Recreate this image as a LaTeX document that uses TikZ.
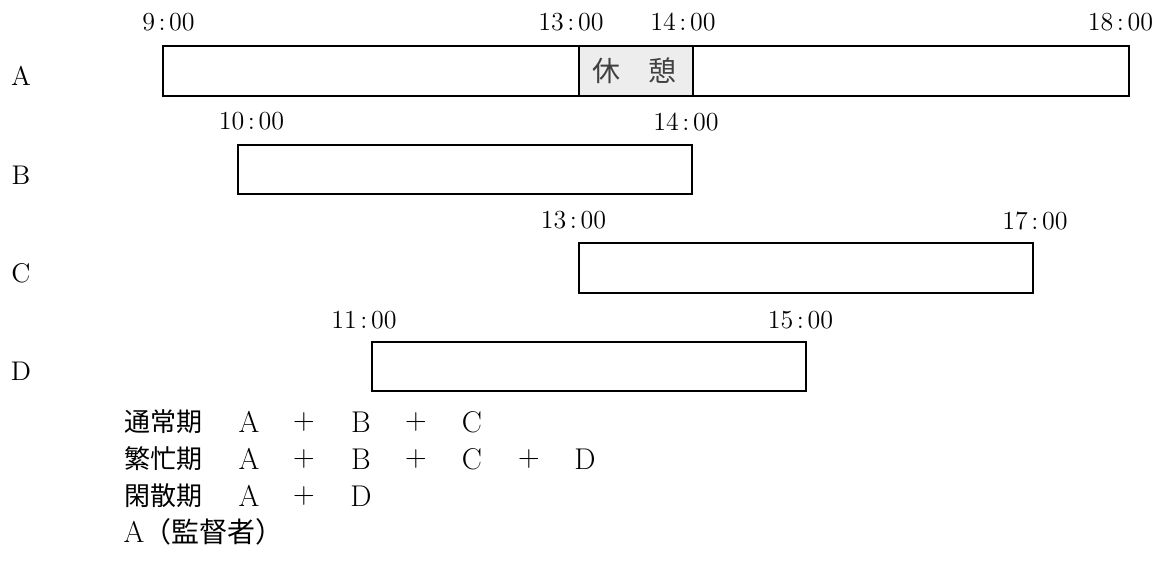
\documentclass[tikz,border=0pt]{standalone}
\usepackage{fontspec}
\newfontfamily\jp{Noto Sans CJK JP}
\newcommand{\tmlab}[2]{#1\kern1.8pt:\kern1.8pt#2}
\begin{document}
\begin{tikzpicture}[x=0.5pt,y=-0.5pt,
  bar/.style={draw=black,line width=1.2pt},
  breakfill/.style={fill=black!7},
  tlab/.style={inner sep=0pt,font=\fontsize{13}{15}\selectfont},
  rlab/.style={inner sep=0pt,font=\fontsize{13.5}{15}\selectfont},
  jlab/.style={inner sep=0pt,anchor=west,font=\jp\fontsize{13}{15}\selectfont},
  ltok/.style={inner sep=0pt,font=\fontsize{15}{17}\selectfont},
  breaklab/.style={inner sep=0pt,text=black!75,font=\jp\fontsize{14}{16}\selectfont}]
\useasboundingbox (0,0) rectangle (1158,574);

% row labels
\node[rlab] (rA) at (21,76) {A};
\node[rlab] (rB) at (21,175) {B};
\node[rlab] (rC) at (21,273) {C};
\node[rlab] (rD) at (21,371) {D};

% row A
\fill[breakfill] (579,46) rectangle (693,96);
\draw[bar] (163,46) rectangle (1129,96);
\draw[bar] (579,46) -- (579,96);
\draw[bar] (693,46) -- (693,96);
\node[breaklab] (brk) at (634,71) {休　憩};
\node[tlab] (a1) at (168.5,22) {\tmlab{9}{00}};
\node[tlab] (a2) at (571,22) {\tmlab{13}{00}};
\node[tlab] (a3) at (683,22) {\tmlab{14}{00}};
\node[tlab] (a4) at (1120.5,22) {\tmlab{18}{00}};

% row B
\draw[bar] (238,145) rectangle (692,194);
\node[tlab] (b1) at (251.5,121.5) {\tmlab{10}{00}};
\node[tlab] (b2) at (686,121.5) {\tmlab{14}{00}};

% row C
\draw[bar] (579,243) rectangle (1033,293);
\node[tlab] (c1) at (573.5,220.5) {\tmlab{13}{00}};
\node[tlab] (c2) at (1035,220.5) {\tmlab{17}{00}};

% row D
\draw[bar] (372,342) rectangle (806,391);
\node[tlab] (d1) at (364,320) {\tmlab{11}{00}};
\node[tlab] (d2) at (800.5,320) {\tmlab{15}{00}};

% legend lines
\node[jlab] (l1) at (124,422) {通常期};
\node[ltok] (l1a) at (249,422) {A};
\node[ltok] (l1p1) at (304,422) {+};
\node[ltok] (l1b) at (361,422) {B};
\node[ltok] (l1p2) at (416,422) {+};
\node[ltok] (l1c) at (472,422) {C};

\node[jlab] (l2) at (124,459) {繁忙期};
\node[ltok] (l2a) at (249,459) {A};
\node[ltok] (l2p1) at (304,459) {+};
\node[ltok] (l2b) at (361,459) {B};
\node[ltok] (l2p2) at (416,459) {+};
\node[ltok] (l2c) at (472,459) {C};
\node[ltok] (l2p3) at (529,459) {+};
\node[ltok] (l2d) at (585,459) {D};

\node[jlab] (l3) at (124,496) {閑散期};
\node[ltok] (l3a) at (249,496) {A};
\node[ltok] (l3p1) at (304,496) {+};
\node[ltok] (l3d) at (361,496) {D};

\node[ltok] (l4a) at (134,532) {A};
\node[jlab,font=\jp\fontsize{14}{16}\selectfont] (l4) at (143,532) {（監督者）};
\end{tikzpicture}
\end{document}
